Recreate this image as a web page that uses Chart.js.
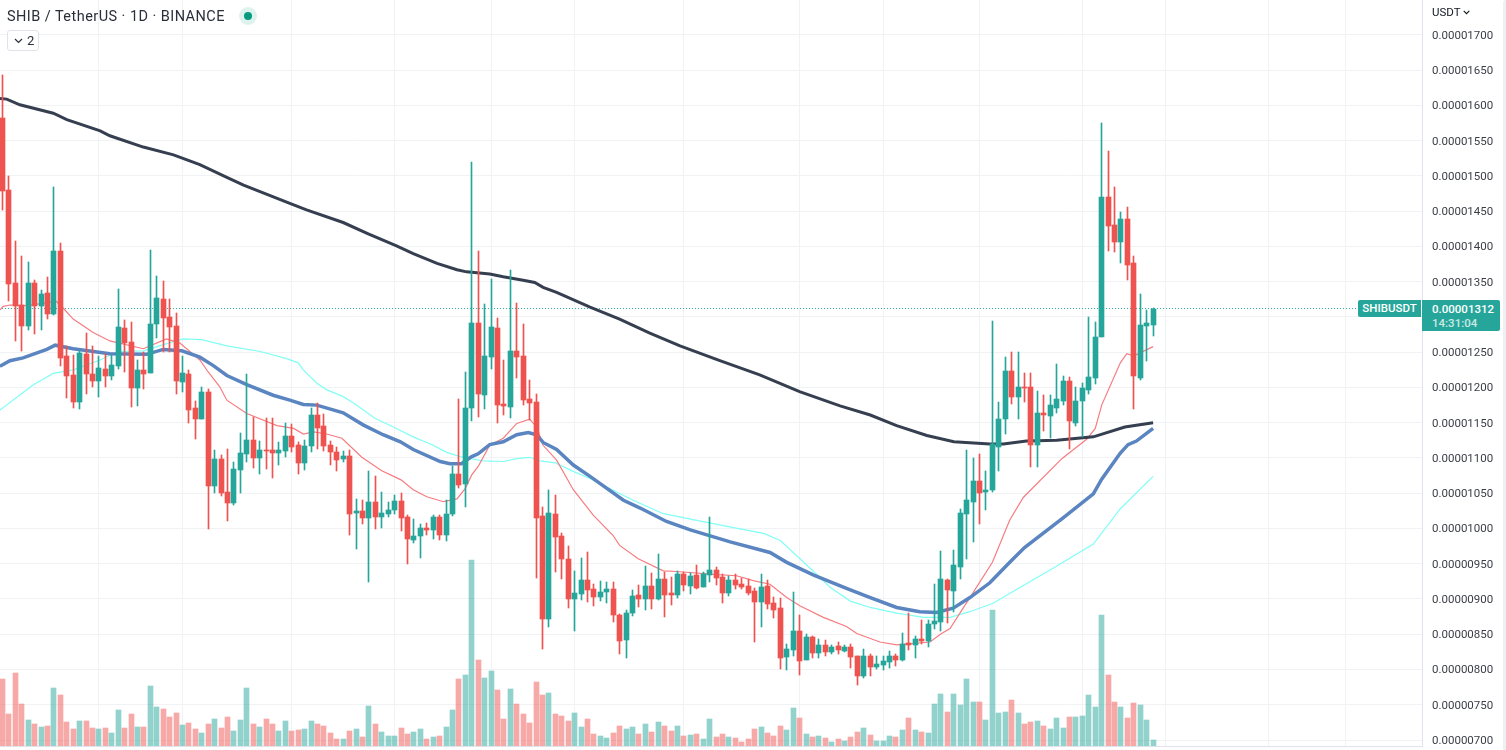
<!DOCTYPE html>
<html>
<head>
<meta charset="utf-8">
<title>SHIB / TetherUS</title>
<script src="https://cdn.jsdelivr.net/npm/chart.js@4"></script>
<style>
  html, body { margin: 0; padding: 0; background: #fff; overflow: hidden; }
  body { width: 1506px; height: 750px; position: relative; font-family: Roboto, sans-serif; color: #131722; }
  canvas { position: absolute; left: 0; top: 0; }
  .abs { position: absolute; white-space: nowrap; }
  #title { left: 7px; top: 8px; font-size: 14.5px; line-height: 17px; color: #2a2e39; letter-spacing: 0.45px; }
  #dot { left: 239px; top: 7px; width: 18px; height: 18px; border-radius: 50%; background: #dff3ee; }
  #dot i { position: absolute; left: 5px; top: 5px; width: 8px; height: 8px; border-radius: 50%; background: #089981; }
  #fold { left: 7px; top: 30px; width: 30px; height: 19px; border: 1px solid #e0e3eb; border-radius: 3px; font-size: 13px; line-height: 19px; color: #2a2e39; background: #fff; }
  #fold svg { position: absolute; left: 6px; top: 7px; }
  #fold span { position: absolute; left: 19px; top: 0; }
  #currency { left: 1432px; top: 5px; font-size: 11.5px; line-height: 14px; color: #131722; }
  #currency svg { margin-left: 2px; vertical-align: 1px; }
  #symbol { left: 1358px; top: 300px; width: 63px; height: 17px; line-height: 17px; background: #26a69a; color: #fff; font-size: 11.5px; font-weight: 500; text-align: center; border-radius: 2px 0 0 2px; }
  #last { left: 1422px; top: 300px; width: 78px; height: 31px; background: #26a69a; color: #fff; font-size: 11.5px; font-weight: 500; border-radius: 0 2px 2px 0; }
  #last div { position: absolute; left: 10px; }
  #strip { left: 1503px; top: 0; width: 3px; height: 750px; background: #eef0f4; border-radius: 3px 0 0 0; }
</style>
</head>
<body>
<canvas id="chart" width="1506" height="750"></canvas>
<div class="abs" id="title">SHIB / TetherUS · 1D · BINANCE</div>
<div class="abs" id="dot"><i></i></div>
<div class="abs" id="fold"><svg width="9" height="6" viewBox="0 0 9 6"><path d="M1 1l3.5 3.5L8 1" fill="none" stroke="#2a2e39" stroke-width="1.2"/></svg><span>2</span></div>
<div class="abs" id="currency">USDT<svg width="7" height="5" viewBox="0 0 7 5"><path d="M.7.8l2.8 2.8L6.3.8" fill="none" stroke="#131722" stroke-width="1.1"/></svg></div>
<div class="abs" id="symbol">SHIBUSDT</div>
<div class="abs" id="last"><div style="top:1px;line-height:16px">0.00001312</div><div style="top:16px;line-height:14px;opacity:.75">14:31:04</div></div>
<div class="abs" id="strip"></div>

<script>
// prices are in units of 0.00000001 USDT
const lastPrice = 1312;

const opens = [
  1582,1480,1348,1317,1287,1348,1316,1334,1304,1394,1245,1218,1179,1247,1219,1209,1226,1216,1230,1284,
  1265,1199,1225,1221,1290,1325,1300,1287,1208,1219,1171,1155,1194,1060,1099,1052,1036,1083,1106,1126,
  1100,1111,1111,1107,1110,1131,1118,1093,1117,1161,1145,1118,1109,1099,1103,1022,1025,1015,1038,1016,
  1021,1026,1039,1016,984,989,1001,998,1016,991,1021,1077,1063,1171,1292,1189,1243,1284,1177,1172,
  1252,1245,1184,1179,1018,872,1021,989,957,900,907,927,914,903,910,914,877,842,880,906,
  900,918,900,928,908,906,935,918,934,917,934,941,931,908,927,921,918,911,896,918,
  894,887,818,828,855,813,846,823,835,825,833,826,832,819,791,819,804,806,811,819,
  813,837,835,843,840,864,867,927,911,945,1020,1038,1067,1052,1054,1115,1155,1223,1186,1201,
  1201,1118,1164,1160,1171,1181,1209,1150,1181,1197,1213,1271,1470,1431,1407,1439,1376,1214,1287,1289
];
const highs = [
  1643,1500,1408,1386,1378,1352,1338,1357,1484,1405,1259,1246,1252,1277,1259,1245,1247,1246,1340,1296,
  1293,1239,1250,1395,1358,1351,1325,1306,1245,1225,1181,1201,1198,1111,1104,1113,1094,1135,1219,1158,
  1124,1157,1157,1123,1150,1148,1123,1126,1171,1178,1162,1124,1116,1110,1111,1042,1041,1082,1075,1052,
  1038,1048,1050,1019,1013,1006,1008,1019,1019,1041,1089,1184,1222,1520,1394,1318,1354,1299,1239,1367,
  1320,1290,1211,1191,1031,1055,1048,994,975,940,958,967,921,926,924,924,879,884,913,920,
  947,937,964,938,931,940,938,937,948,938,1016,945,935,933,935,930,928,916,935,927,
  903,901,836,910,877,850,848,843,842,835,839,835,836,819,829,822,819,819,826,822,
  852,880,848,870,870,921,968,928,969,1028,1112,1100,1105,1082,1295,1180,1243,1251,1251,1221,
  1221,1195,1189,1189,1234,1216,1215,1200,1207,1300,1293,1575,1535,1485,1449,1456,1386,1333,1310,1313
];
const lows = [
  1452,1322,1266,1252,1282,1276,1282,1297,1303,1230,1185,1171,1169,1191,1201,1187,1201,1211,1226,1222,
  1172,1174,1198,1220,1270,1250,1250,1191,1194,1150,1127,1155,999,1050,1046,1011,1033,1050,1094,1086,
  1077,1084,1072,1090,1101,1109,1077,1083,1109,1113,1110,1090,1082,1094,991,971,1006,924,999,1001,
  1016,1021,997,950,980,958,991,985,984,982,1018,1057,1031,1153,1158,1169,1226,1150,1161,1157,
  1214,1175,1154,930,829,860,938,928,887,855,899,896,890,897,894,867,822,816,876,889,
  884,886,899,874,891,901,911,907,914,917,924,920,894,904,914,914,906,839,860,886,
  873,801,799,819,792,813,816,816,819,822,822,825,802,778,788,791,801,799,802,805,
  812,828,816,836,832,858,855,866,882,929,957,981,1007,1026,1052,1081,1134,1176,1155,1180,
  1087,1087,1138,1129,1164,1175,1113,1145,1130,1191,1205,1271,1394,1392,1376,1352,1170,1210,1238,1273
];
const closes = [
  1478,1347,1315,1287,1348,1316,1333,1304,1394,1242,1216,1179,1249,1219,1209,1228,1216,1232,1286,1263,
  1199,1225,1219,1290,1327,1299,1286,1209,1221,1168,1155,1194,1060,1099,1050,1036,1084,1107,1126,1100,
  1111,1110,1107,1111,1131,1116,1093,1117,1161,1143,1117,1109,1097,1103,1021,1025,1015,1038,1016,1022,
  1026,1039,1015,985,989,1001,998,1016,991,1021,1077,1062,1171,1292,1191,1245,1286,1175,1174,1252,
  1243,1182,1178,1015,872,1022,988,957,900,909,927,913,903,910,914,877,840,880,904,900,
  918,900,928,906,906,935,920,933,916,935,941,930,908,927,920,917,908,896,917,893,
  884,816,829,855,812,846,823,835,825,832,828,832,818,791,819,804,808,812,819,813,
  836,835,843,840,865,869,928,913,948,1022,1040,1068,1051,1055,1120,1155,1224,1186,1201,1199,
  1118,1164,1161,1175,1183,1209,1152,1181,1199,1215,1272,1470,1429,1407,1439,1374,1216,1288,1292,1312
];
const volumes = [
  67,32,73,42,26,22,19,20,58,51,24,17,25,25,18,17,18,13,36,18,
  32,19,19,60,39,37,29,33,21,23,17,13,22,27,18,29,15,26,58,22,
  19,27,22,15,25,15,16,17,25,22,20,13,7,7,15,17,9,40,22,14,
  10,10,18,12,14,17,7,9,10,19,36,67,71,186,86,68,75,56,27,57,
  42,32,23,64,51,53,32,30,25,33,19,27,12,10,8,13,20,17,19,12,
  22,14,24,20,15,20,10,11,12,7,27,9,12,9,8,4,7,17,19,13,
  10,20,16,38,28,12,9,10,8,4,7,5,9,14,18,11,5,5,10,9,
  16,28,16,14,13,42,52,34,52,41,67,44,44,26,136,33,34,46,33,22,
  24,25,20,17,28,18,29,29,30,51,39,131,71,44,39,28,43,41,26,6
];

const priceTicks = [700,750,800,850,900,950,1000,1050,1100,1150,1200,1250,1300,1350,1400,1450,1500,1550,1600,1650,1700];
const timeGrid = [15,28,45,61,76,89,106,124,137,152,168,181,197,209];

// moving averages, read at the bends of each curve: day index, then value
const ma20Days = [-0.4,0.1,1.2,3.8,8.4,9.5,11,14.1,16.7,21.9,25.5,27.6,30.7,32,33.8,34.9,38,42.7,45.3,46.8,48.4,50.4,52.8,55.9,59,62,63.9,66,68.6,70.7,72,73,74,75.8,77.9,80,82,83.1,84.1,86.2,88.8,91.9,95,96,98.9,102.8,104.9,110.6,114.2,116.8,119.4,122,124.1,127.7,131.3,132.9,136.5,139.1,144.3,145.9,147.4,150.5,154,156.7,158.8,164.8,168.7,170,171,173.9,174.9,176,179];
const ma20Vals = [1310,1315,1317,1316,1322,1312,1297,1278,1266,1255,1269,1263,1239,1222,1201,1182,1163,1146,1142,1134,1137,1134,1128,1101,1082,1069,1055,1045,1038,1042,1057,1076,1088,1118,1128,1149,1155,1144,1118,1097,1055,1019,990,976,957,940,939,935,933,926,921,902,890,874,861,851,839,835,839,850,858,902,952,1012,1044,1099,1127,1142,1175,1235,1248,1245,1258];

const ma50Days = [-0.4,1.15,3.2,6.9,8.2,11,16.7,22.4,25,27.9,30.7,32.8,34.9,38,42.1,44.7,46.8,48.9,53,56.1,59.2,61.9,63.9,68.1,69.6,71.4,73,74,75.8,77.9,80,81.8,83.1,84.1,86.2,88.8,91.4,96.6,99.2,103.3,107,113.2,119.4,122,126.2,131.3,135,139.1,142.7,145.3,147.9,150.5,153.6,156.7,159,165,169.7,171,173.9,175.1,176.4,179];
const ma50Vals = [1230,1238,1242,1254,1260,1255,1248,1247,1254,1252,1243,1231,1217,1204,1189,1182,1176,1175,1164,1147,1133,1123,1112,1095,1092,1092,1102,1106,1119,1123,1133,1136,1133,1122,1112,1090,1074,1040,1029,1010,998,981,966,952,934,915,902,888,882,881,887,902,923,952,973,1015,1049,1070,1107,1119,1124,1142];

const ma100Days = [-0.4,4.8,7.9,11,15.2,17.8,21.9,26.6,28.1,31,34.9,40.1,44.2,46,46.8,48.9,50.4,53,54.6,58,60.8,63.9,67,69.1,71.2,74.8,77.9,80,82,83.6,86,88.8,91.4,98.1,102.8,112.1,118.4,121,126.2,128.7,131.9,135,139.1,143.3,147.4,150.5,154.1,158.8,163.5,169.7,173.9,179];
const ma100Vals = [1168,1204,1220,1225,1239,1251,1252,1265,1269,1268,1259,1251,1241,1235,1225,1206,1197,1187,1178,1156,1144,1130,1118,1108,1102,1096,1095,1099,1101,1096,1093,1081,1071,1040,1021,1004,993,983,939,917,897,888,880,874,874,882,894,919,944,978,1028,1074];

const ma200Days = [-0.4,0.65,2.7,7.9,10,15.2,16.7,21.9,26.6,30.7,34.9,37.5,44.7,47.3,53,56.9,61.3,63.9,67.6,70.7,72.2,75.8,77.9,81,82.8,84.1,86.2,91.4,96,100.7,105.4,111.6,117.8,124,130.3,135,139.1,143.8,148,153.6,155.7,159.3,164,169.7,174.6,179];
const ma200Vals = [1610,1609,1601,1589,1580,1564,1557,1541,1530,1516,1498,1487,1461,1452,1434,1418,1401,1390,1376,1367,1364,1361,1357,1352,1349,1342,1335,1314,1297,1277,1259,1238,1218,1194,1174,1161,1146,1132,1123,1120,1120,1124,1125,1130,1144,1150];

const upColor = "#26a69a";
const downColor = "#ef5350";
const upVolume = "rgba(38,166,154,0.5)";
const downVolume = "rgba(239,83,80,0.5)";
const gridColor = "#f1f2f4";

const days = opens.map((o, i) => i);
const isUp = (i) => closes[i] >= opens[i];
const candleColors = days.map((i) => (isUp(i) ? upColor : downColor));
const volumeColors = days.map((i) => (isUp(i) ? upVolume : downVolume));

function maLine(xs, ys, color, width, order) {
  return {
    type: "line",
    data: xs.map((x, i) => ({ x: x, y: ys[i] })),
    borderColor: color,
    borderWidth: width,
    pointRadius: 0,
    tension: 0,
    order: order,
  };
}

const barDefaults = {
  type: "bar",
  grouped: false,
  barPercentage: 1,
  categoryPercentage: 1,
  borderWidth: 0,
};

// keep bars on whole pixels so wicks stay 1px sharp
const snapBars = {
  id: "snapBars",
  beforeDatasetsDraw(chart) {
    chart.getSortedVisibleDatasetMetas().forEach((meta) => {
      if (meta.type !== "bar") return;
      meta.data.forEach((bar) => {
        bar.x = Math.floor(bar.x) + 0.5;
        bar.y = Math.round(bar.y);
        bar.base = Math.round(bar.base);
        if (bar.y === bar.base) bar.base = bar.y + 1;
      });
    });
  },
};

new Chart(document.getElementById("chart").getContext("2d"), {
  plugins: [snapBars],
  data: {
    datasets: [
      {
        ...barDefaults,
        data: days.map((i) => ({ x: i, y: volumes[i] })),
        backgroundColor: volumeColors,
        maxBarThickness: 5,
        yAxisID: "vol",
        order: 9,
      },
      {
        type: "line",
        data: [{ x: -1, y: lastPrice }, { x: 210.8, y: lastPrice }],
        borderColor: upColor,
        borderWidth: 1,
        borderDash: [1, 2],
        pointRadius: 0,
        order: 8,
      },
      maLine(ma100Days, ma100Vals, "#80fff5", 1.2, 7),
      maLine(ma20Days, ma20Vals, "#f77c80", 1.2, 6),
      maLine(ma200Days, ma200Vals, "#363f50", 3, 5),
      maLine(ma50Days, ma50Vals, "#5a85c0", 3.5, 4),
      {
        ...barDefaults,
        data: days.map((i) => ({ x: i, y: [lows[i], highs[i]] })),
        backgroundColor: candleColors,
        maxBarThickness: 1,
        order: 2,
      },
      {
        ...barDefaults,
        data: days.map((i) => ({ x: i, y: [opens[i], closes[i]] })),
        backgroundColor: candleColors,
        maxBarThickness: 5,
        order: 1,
      },
    ],
  },
  options: {
    responsive: false,
    animation: false,
    events: [],
    layout: { padding: { bottom: 4 } },
    plugins: { legend: { display: false }, tooltip: { enabled: false } },
    scales: {
      x: {
        type: "linear",
        offset: false,
        min: -0.389,
        max: 220.83,
        afterBuildTicks: (scale) => {
          scale.ticks = timeGrid.map((v) => ({ value: v }));
        },
        ticks: { display: false, autoSkip: false },
        grid: { color: gridColor, drawTicks: false, offset: false },
        border: { color: "#e0e3eb" },
      },
      y: {
        type: "linear",
        position: "right",
        min: 691.5,
        max: 1749.6,
        afterBuildTicks: (scale) => {
          scale.ticks = priceTicks.map((v) => ({ value: v }));
        },
        afterFit: (scale) => {
          scale.width = 84;
          scale.paddingTop = 0;
          scale.paddingBottom = 0;
        },
        ticks: {
          autoSkip: false,
          padding: 10,
          labelOffset: 1,
          color: "#3b3e47",
          font: { family: "Roboto", size: 11.5 },
          callback: (v) => (v / 1e8).toFixed(8),
        },
        grid: { color: gridColor, drawTicks: false },
        border: { color: "#e0e3eb" },
      },
      vol: { type: "linear", display: false, min: 0, max: 746 },
    },
  },
});
</script>
</body>
</html>
